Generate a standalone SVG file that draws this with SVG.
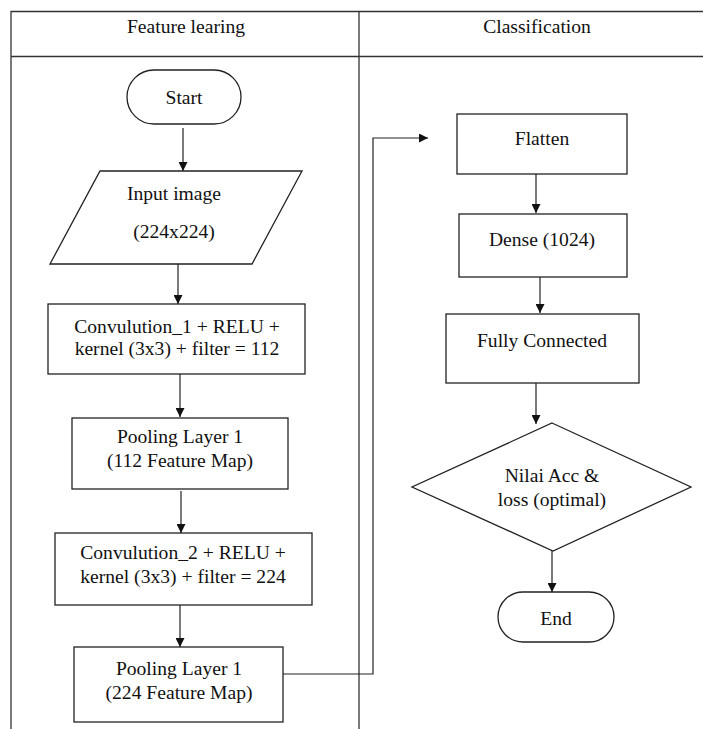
<svg xmlns="http://www.w3.org/2000/svg" width="703" height="729" viewBox="0 0 703 729">
  <style>
    .shape { fill: #fff; stroke: #222; stroke-width: 1.3; }
    .grid { fill: none; stroke: #333; stroke-width: 1.3; }
    .edge { fill: none; stroke: #222; stroke-width: 1.2; }
  </style>
  <defs>
    <marker id="arrow" viewBox="0 0 10 10" refX="10" refY="5" markerWidth="9" markerHeight="9" markerUnits="userSpaceOnUse" orient="auto">
      <path d="M0,0 L10,5 L0,10 z" fill="#111"/>
    </marker>
  </defs>
  <rect width="703" height="729" fill="#fff"/>

  <!-- swimlane table -->
  <g id="lanes">
    <path class="grid" d="M11,729 V11.5 H703 M11,56.5 H703 M359,11.5 V729"/>
    <text font-family="Liberation Serif" font-size="19.6" fill="#111" text-anchor="middle" x="186" y="33">Feature learing</text>
    <text font-family="Liberation Serif" font-size="19.6" fill="#111" text-anchor="middle" x="537" y="33">Classification</text>
  </g>

  <!-- connectors -->
  <g id="connectors">
    <path class="edge" d="M183,128 V171" marker-end="url(#arrow)"/>
    <path class="edge" d="M178,264 V304" marker-end="url(#arrow)"/>
    <path class="edge" d="M180,374 V417" marker-end="url(#arrow)"/>
    <path class="edge" d="M181,491 V533" marker-end="url(#arrow)"/>
    <path class="edge" d="M180,604 V647" marker-end="url(#arrow)"/>
    <path class="edge" d="M283,674 H373 V138 H428" marker-end="url(#arrow)"/>
    <path class="edge" d="M536,169 V213" marker-end="url(#arrow)"/>
    <path class="edge" d="M540,271 V313" marker-end="url(#arrow)"/>
    <path class="edge" d="M536,383 V424" marker-end="url(#arrow)"/>
    <path class="edge" d="M552,551 V592" marker-end="url(#arrow)"/>
  </g>

  <!-- feature learning lane -->
  <g id="start">
    <rect class="shape" x="127" y="70" width="114" height="54" rx="27"/>
    <text font-family="Liberation Serif" font-size="19.6" fill="#111" text-anchor="middle" x="184" y="104">Start</text>
  </g>
  <g id="input-image">
    <polygon class="shape" points="100,171 302,171 252,264 50,264"/>
    <text font-family="Liberation Serif" font-size="19.6" fill="#111" text-anchor="middle" x="174" y="200">Input image</text>
    <text font-family="Liberation Serif" font-size="19.6" fill="#111" text-anchor="middle" x="174" y="238">(224x224)</text>
  </g>
  <g id="conv1">
    <rect class="shape" x="48" y="304" width="257" height="70"/>
    <text font-family="Liberation Serif" font-size="19.6" fill="#111" text-anchor="middle" x="177" y="333">Convulution_1 + RELU +</text>
    <text font-family="Liberation Serif" font-size="19.6" fill="#111" text-anchor="middle" x="177" y="355">kernel (3x3) + filter = 112</text>
  </g>
  <g id="pool1">
    <rect class="shape" x="72" y="418" width="216" height="71"/>
    <text font-family="Liberation Serif" font-size="19.6" fill="#111" text-anchor="middle" x="180" y="443">Pooling Layer 1</text>
    <text font-family="Liberation Serif" font-size="19.6" fill="#111" text-anchor="middle" x="180" y="467">(112 Feature Map)</text>
  </g>
  <g id="conv2">
    <rect class="shape" x="55" y="533" width="257" height="72"/>
    <text font-family="Liberation Serif" font-size="19.6" fill="#111" text-anchor="middle" x="183" y="559">Convulution_2 + RELU +</text>
    <text font-family="Liberation Serif" font-size="19.6" fill="#111" text-anchor="middle" x="183" y="583">kernel (3x3) + filter = 224</text>
  </g>
  <g id="pool2">
    <rect class="shape" x="74" y="647" width="209" height="75"/>
    <text font-family="Liberation Serif" font-size="19.6" fill="#111" text-anchor="middle" x="179" y="675">Pooling Layer 1</text>
    <text font-family="Liberation Serif" font-size="19.6" fill="#111" text-anchor="middle" x="179" y="699">(224 Feature Map)</text>
  </g>

  <!-- classification lane -->
  <g id="flatten">
    <rect class="shape" x="457" y="114" width="170" height="60"/>
    <text font-family="Liberation Serif" font-size="19.6" fill="#111" text-anchor="middle" x="542" y="145">Flatten</text>
  </g>
  <g id="dense">
    <rect class="shape" x="459" y="214" width="168" height="63"/>
    <text font-family="Liberation Serif" font-size="19.6" fill="#111" text-anchor="middle" x="542" y="246">Dense (1024)</text>
  </g>
  <g id="fully-connected">
    <rect class="shape" x="446" y="314" width="193" height="69"/>
    <text font-family="Liberation Serif" font-size="19.6" fill="#111" text-anchor="middle" x="542" y="347">Fully Connected</text>
  </g>
  <g id="decision">
    <polygon class="shape" points="552,423 691,487 553,551 412,487"/>
    <text font-family="Liberation Serif" font-size="19.6" fill="#111" text-anchor="middle" x="552" y="482">Nilai Acc &amp;</text>
    <text font-family="Liberation Serif" font-size="19.6" fill="#111" text-anchor="middle" x="552" y="506">loss (optimal)</text>
  </g>
  <g id="end">
    <rect class="shape" x="498" y="592" width="116" height="50" rx="25"/>
    <text font-family="Liberation Serif" font-size="19.6" fill="#111" text-anchor="middle" x="556" y="625">End</text>
  </g>
</svg>
